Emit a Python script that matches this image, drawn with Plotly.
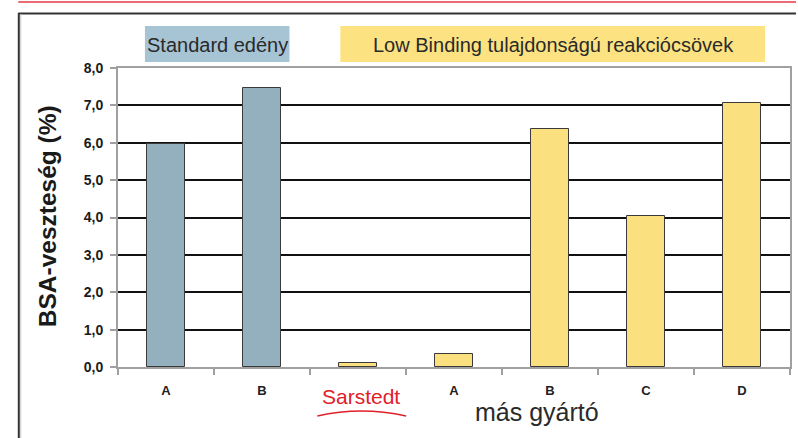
import plotly.graph_objects as go

# ---- data ----
categories = ["A", "B", "", "A", "B", "C", "D"]
values = [5.97, 7.47, 0.11, 0.34, 6.37, 4.05, 7.07]
bar_colors = ["#94b0bf", "#94b0bf", "#fbe07f", "#fbe07f", "#fbe07f", "#fbe07f", "#fbe07f"]
y_ticks = [0, 1, 2, 3, 4, 5, 6, 7, 8]
y_title = "BSA-veszteség (%)"
header_left = "Standard edény"
header_right = "Low Binding tulajdonságú reakciócsövek"
label_sarstedt = "Sarstedt"
label_other = "más gyártó"

W, H = 798, 438
ML, MR, MT, MB = 118, 6, 68, 71
PW, PH = W - ML - MR, H - MT - MB


def px(x):
    return (x - ML) / PW


def py(y):
    return (H - MB - y) / PH


xs = list(range(1, len(values) + 1))

fig = go.Figure()
fig.add_trace(go.Bar(
    x=xs, y=values, width=0.4,
    marker=dict(color=bar_colors, line=dict(color="#3a3a3a", width=1)),
    hoverinfo="skip",
))

FONT = "Liberation Sans, Arial, sans-serif"

shapes = [
    # top red line
    dict(type="line", xref="paper", yref="paper", x0=px(18), x1=px(798), y0=py(2), y1=py(2),
         line=dict(color="#ec6a72", width=2)),
    # frame lines
    dict(type="line", xref="paper", yref="paper", x0=px(18), x1=px(798), y0=py(13.5), y1=py(13.5),
         line=dict(color="#333333", width=2)),
    dict(type="line", xref="paper", yref="paper", x0=px(18.5), x1=px(18.5), y0=py(13), y1=py(438),
         line=dict(color="#333333", width=2)),
    dict(type="line", xref="paper", yref="paper", x0=px(20.5), x1=px(20.5), y0=py(14), y1=py(438),
         line=dict(color="#c8c8c8", width=1)),
    # header boxes
    dict(type="rect", xref="paper", yref="paper", x0=px(145), x1=px(290), y0=py(62), y1=py(26),
         fillcolor="#a7c4d4", line=dict(width=0)),
    dict(type="rect", xref="paper", yref="paper", x0=px(341), x1=px(767), y0=py(62), y1=py(26),
         fillcolor="#fce281", line=dict(width=0)),
    # red underline under Sarstedt
    dict(type="path", xref="paper", yref="paper",
         path="M %f,%f Q %f,%f %f,%f" % (px(318), py(416), px(362), py(406), px(407), py(416)),
         line=dict(color="#e0202a", width=1.5)),
]

annotations = [
    dict(xref="paper", yref="paper", x=px(217.5), y=py(45), text=header_left, showarrow=False,
         font=dict(family=FONT, size=20, color="#2a2a2a"), xanchor="center", yanchor="middle"),
    dict(xref="paper", yref="paper", x=px(554.5), y=py(45), text=header_right, showarrow=False,
         font=dict(family=FONT, size=20, color="#2a2a2a"), xanchor="center", yanchor="middle"),
    dict(xref="paper", yref="paper", x=px(362), y=py(396.5), text=label_sarstedt, showarrow=False,
         font=dict(family=FONT, size=21, color="#e0202a"), xanchor="center", yanchor="middle"),
    dict(xref="paper", yref="paper", x=px(538), y=py(412), text=label_other, showarrow=False,
         font=dict(family=FONT, size=25, color="#2a2a2a"), xanchor="center", yanchor="middle"),
    dict(xref="paper", yref="paper", x=px(47), y=py(216), text=y_title, showarrow=False, textangle=-90,
         font=dict(family=FONT, size=24.5, color="#1a1a1a", weight="bold"), xanchor="center", yanchor="middle"),
]

fig.update_layout(
    width=W, height=H,
    margin=dict(l=ML, r=MR, t=MT, b=MB),
    paper_bgcolor="white", plot_bgcolor="white",
    showlegend=False,
    separators=",.",
    shapes=shapes,
    annotations=annotations,
    bargap=0,
)
fig.update_xaxes(
    range=[0.5, len(values) + 0.5],
    tickvals=xs, ticktext=categories,
    ticks="", showgrid=False,
    showline=True, linecolor="#a0a0a0", linewidth=2, mirror=True,
    tickfont=dict(family=FONT, size=13, color="#222222", weight="bold"),
    ticklabelstandoff=10,
    minor=dict(tickvals=[i + 0.5 for i in range(len(values) + 1)], ticks="outside",
               ticklen=6, tickcolor="#a0a0a0", tickwidth=1.5, showgrid=False),
    fixedrange=True,
)
fig.update_yaxes(
    range=[0, 8], tickvals=y_ticks, tickformat=".1f",
    ticks="outside", ticklen=6, tickcolor="#a0a0a0", tickwidth=1.5,
    showgrid=True, gridcolor="#111111", gridwidth=2,
    showline=True, linecolor="#a0a0a0", linewidth=2, mirror=True,
    zeroline=False,
    tickfont=dict(family=FONT, size=14, color="#1a1a1a", weight="bold"),
    ticklabelstandoff=4,
    fixedrange=True,
)

fig.write_html(
    "out.html",
    config={"displayModeBar": False},
    post_script="document.body.style.margin='0';document.body.style.overflow='hidden';",
)
